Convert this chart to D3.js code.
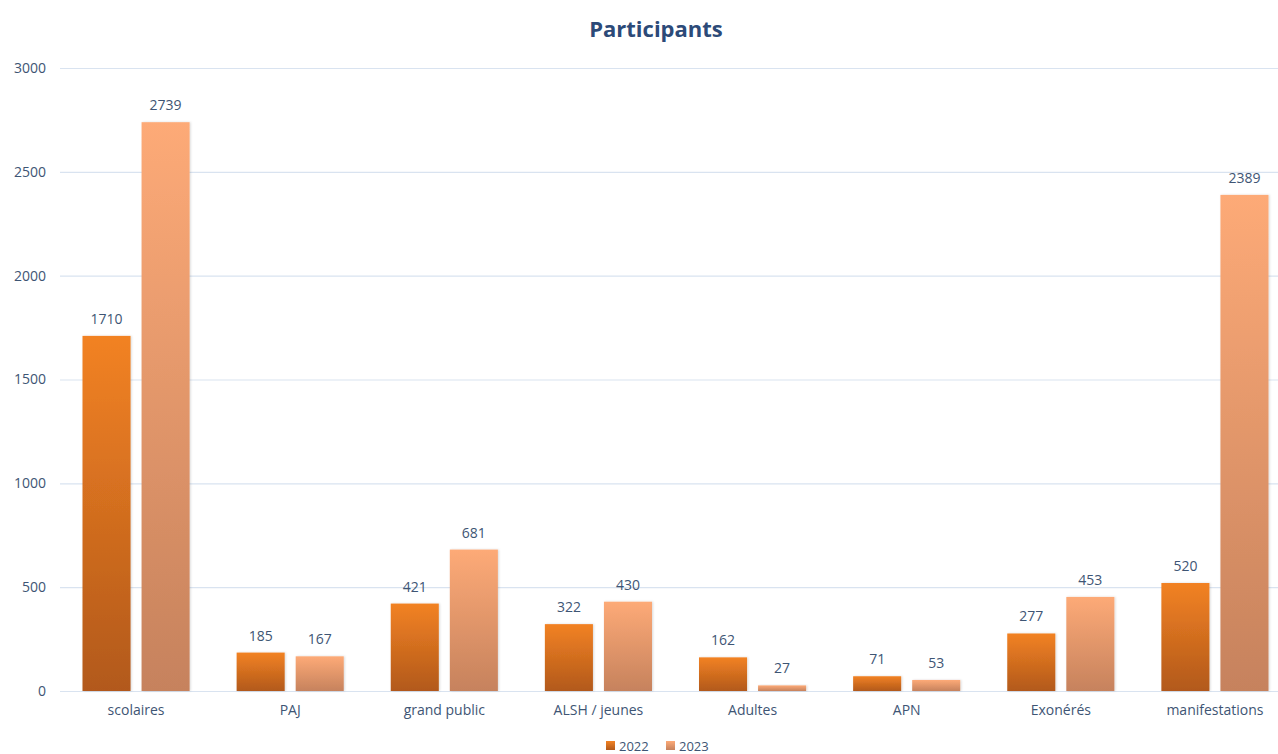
<!DOCTYPE html>
<html>
<head>
<meta charset="utf-8">
<script src="https://cdn.jsdelivr.net/npm/d3@7"></script>
<style>
  body { margin: 0; background: #fff; }
  svg { display: block; font-family: "Open Sans", "Liberation Sans", sans-serif; }
</style>
</head>
<body>
<svg id="chart" width="1278" height="754"></svg>
<script>
var categories = ["scolaires", "PAJ", "grand public", "ALSH / jeunes", "Adultes", "APN", "Exonérés", "manifestations"];
var years = ["2022", "2023"];
var values2022 = [1710, 185, 421, 322, 162, 71, 277, 520];
var values2023 = [2739, 167, 681, 430, 27, 53, 453, 2389];
var yTicks = [0, 500, 1000, 1500, 2000, 2500, 3000];

var svg = d3.select("#chart");
var textColor = "#3e5574";

// gradients, one per series (light top -> dark bottom)
var defs = svg.append("defs");
var grads = [
  { id: "g2022", top: "#f28224", bottom: "#b2591a" },
  { id: "g2023", top: "#fdaa77", bottom: "#c6825d" }
];
grads.forEach(function (g) {
  var lg = defs.append("linearGradient").attr("id", g.id)
    .attr("x1", 0).attr("y1", 0).attr("x2", 0).attr("y2", 1);
  lg.append("stop").attr("offset", "0%").attr("stop-color", g.top);
  lg.append("stop").attr("offset", "100%").attr("stop-color", g.bottom);
});
var shadow = defs.append("filter").attr("id", "shadow")
  .attr("x", "-10%").attr("y", "-10%").attr("width", "130%").attr("height", "120%");
shadow.append("feDropShadow").attr("dx", 1).attr("dy", 0).attr("stdDeviation", 1)
  .attr("flood-color", "#000").attr("flood-opacity", 0.15);

var y = d3.scaleLinear().domain([0, 3000]).range([691, 68]);
var x0 = d3.scaleBand().domain(categories).range([59, 1292]).padding(0);
var x1 = d3.scaleBand().domain(years).range([23.5, x0.bandwidth() - 23.5]).paddingInner(0.1864);

// title
svg.append("text")
  .attr("x", 656).attr("y", 37)
  .attr("text-anchor", "middle")
  .attr("font-size", 22).attr("font-weight", "bold")
  .attr("fill", "#2c4a78")
  .text("Participants");

// gridlines + y labels
var yAxis = d3.axisLeft(y).tickValues(yTicks).tickFormat(d3.format("d"))
  .tickSize(-(1278 - 60)).tickPadding(14);
var gy = svg.append("g").attr("transform", "translate(60,0)").call(yAxis);
gy.select(".domain").remove();
gy.selectAll("line").attr("stroke", "#d9e3f0").attr("stroke-width", 1.2);
gy.selectAll("text").attr("fill", textColor).attr("font-size", 14)
  .attr("font-family", "\"Open Sans\", sans-serif");

// x labels
var xAxis = d3.axisBottom(x0).tickSize(0).tickPadding(14);
var gx = svg.append("g").attr("transform", "translate(0,691)").call(xAxis);
gx.select(".domain").remove();
gx.selectAll("text").attr("fill", textColor).attr("font-size", 14)
  .attr("font-family", "\"Open Sans\", sans-serif");

// bars
var rows = categories.map(function (c, i) {
  return { cat: c, vals: [
    { year: "2022", v: values2022[i] },
    { year: "2023", v: values2023[i] }
  ] };
});
var groups = svg.append("g").selectAll("g").data(rows).enter().append("g")
  .attr("transform", function (d) { return "translate(" + x0(d.cat) + ",0)"; });

groups.selectAll("rect").data(function (d) { return d.vals; }).enter().append("rect")
  .attr("x", function (d) { return x1(d.year); })
  .attr("y", function (d) { return y(d.v); })
  .attr("width", x1.bandwidth())
  .attr("height", function (d) { return y(0) - y(d.v); })
  .attr("fill", function (d) { return "url(#g" + d.year + ")"; })
  .attr("filter", "url(#shadow)");

groups.selectAll("text.val").data(function (d) { return d.vals; }).enter().append("text")
  .attr("class", "val")
  .attr("x", function (d) { return x1(d.year) + x1.bandwidth() / 2; })
  .attr("y", function (d) { return y(d.v) - 12; })
  .attr("text-anchor", "middle")
  .attr("font-size", 14)
  .attr("fill", textColor)
  .text(function (d) { return d.v; });

// legend
var legend = svg.append("g").attr("transform", "translate(606,738)");
var items = legend.selectAll("g").data(years).enter().append("g")
  .attr("transform", function (d, i) { return "translate(" + (i * 60) + ",0)"; });
items.append("rect").attr("width", 9).attr("height", 9).attr("y", 3)
  .attr("fill", function (d) { return "url(#g" + d + ")"; });
items.append("text").attr("x", 13).attr("y", 13)
  .attr("font-size", 13).attr("fill", textColor)
  .text(function (d) { return d; });
</script>
</body>
</html>
